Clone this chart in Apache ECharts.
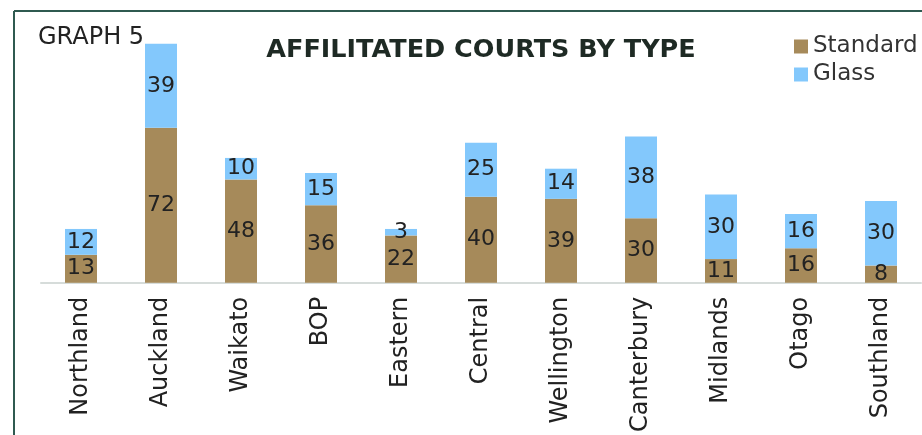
<!DOCTYPE html>
<html>
<head>
<meta charset="utf-8">
<script src="https://cdn.jsdelivr.net/npm/echarts@6/dist/echarts.min.js"></script>
<style>
  html, body { margin: 0; padding: 0; background: #fff; }
  #courtsChart { width: 922px; height: 435px; }
</style>
</head>
<body>
<div id="courtsChart"></div>
<script>
// regions along the x axis
const regions = ['Northland', 'Auckland', 'Waikato', 'BOP', 'Eastern', 'Central',
  'Wellington', 'Canterbury', 'Midlands', 'Otago', 'Southland']
// courts per region
const standardCourts = [13, 72, 48, 36, 22, 40, 39, 30, 11, 16, 8]
const glassCourts = [12, 39, 10, 15, 3, 25, 14, 38, 30, 16, 30]

const fontFamily = '"DejaVu Sans", "Noto Sans", sans-serif'
const labelStyle = {
  show: true,
  position: 'inside',
  color: '#222',
  fontSize: 22,
  fontFamily: fontFamily
}

let myChart = echarts.init(document.getElementById('courtsChart'))
myChart.setOption({
  animation: false,
  title: [
    {
      text: 'AFFILITATED COURTS BY TYPE',
      left: 476,
      top: 32,
      textAlign: 'center',
      textStyle: { fontSize: 25.5, fontWeight: 'bold', color: '#1e2a24', fontFamily: fontFamily }
    },
    {
      text: 'GRAPH 5',
      left: 33,
      top: 21,
      textStyle: { fontSize: 24, fontWeight: 'normal', color: '#222', fontFamily: fontFamily }
    }
  ],
  legend: {
    orient: 'vertical',
    left: 789,
    top: 30,
    itemWidth: 14,
    itemHeight: 14,
    itemGap: 5,
    icon: 'rect',
    textStyle: { fontSize: 23, color: '#333', fontFamily: fontFamily },
    data: ['Standard', 'Glass']
  },
  grid: {
    left: 41,
    right: 1,
    top: 24.5,
    bottom: 151
  },
  xAxis: {
    type: 'category',
    data: regions,
    axisTick: { show: false },
    axisLine: { show: true, lineStyle: { color: '#d6dcda', width: 2 } },
    axisLabel: {
      rotate: 90,
      margin: 14,
      fontSize: 24,
      color: '#222',
      fontFamily: fontFamily,
      interval: 0
    }
  },
  yAxis: {
    type: 'value',
    min: 0,
    max: 120,
    show: false
  },
  graphic: [
    {
      type: 'line',
      shape: { x1: 14, y1: 11, x2: 922, y2: 11 },
      style: { stroke: '#2f5a50', lineWidth: 2 }
    },
    {
      type: 'line',
      shape: { x1: 14, y1: 11, x2: 14, y2: 435 },
      style: { stroke: '#2f5a50', lineWidth: 2 }
    }
  ],
  series: [
    {
      name: 'Standard',
      type: 'bar',
      stack: 'courts',
      barWidth: 32,
      data: standardCourts,
      itemStyle: { color: '#a68a5a' },
      label: labelStyle
    },
    {
      name: 'Glass',
      type: 'bar',
      stack: 'courts',
      barWidth: 32,
      data: glassCourts,
      itemStyle: { color: '#83c8fc' },
      label: labelStyle
    }
  ]
})
</script>
</body>
</html>
